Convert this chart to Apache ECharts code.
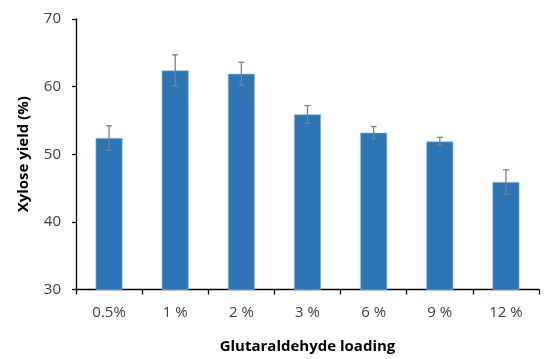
<!DOCTYPE html>
<html><head><meta charset="utf-8">
<script src="https://cdn.jsdelivr.net/npm/echarts@6/dist/echarts.min.js"></script>
<style>html,body{margin:0;padding:0;background:#fff}#c{width:550px;height:359px}</style>
</head><body><div id="c"></div>
<script>
var categories = ['0.5%', '1 %', '2 %', '3 %', '6 %', '9 %', '12 %'];
var yieldValues = [52.4, 62.4, 61.9, 55.9, 53.2, 51.9, 45.9];
var errorValues = [1.8, 2.3, 1.7, 1.3, 0.9, 0.6, 1.8];
var yTicks = [30, 40, 50, 60, 70];

var chart = echarts.init(document.getElementById('c'));
var errData = yieldValues.map(function (v, i) { return [i, v - errorValues[i], v + errorValues[i]]; });
var font = '"Open Sans", "Liberation Sans", sans-serif';
chart.setOption({
  animation: false,
  grid: { left: 76, right: 11, top: 19, bottom: 69.5, containLabel: false, outerBoundsMode: 'none' },
  xAxis: {
    type: 'category', data: categories,
    name: 'Glutaraldehyde loading', nameLocation: 'middle', nameGap: 50,
    nameTextStyle: { fontFamily: font, fontSize: 15, fontWeight: 'bold', color: '#000' },
    axisLine: { lineStyle: { color: '#000', width: 1.3 } },
    axisTick: { show: true, inside: false, length: 5, alignWithLabel: false, lineStyle: { color: '#000', width: 1.3 } },
    axisLabel: { fontFamily: font, fontSize: 15, color: '#404040', margin: 16 }
  },
  yAxis: {
    type: 'value', min: 30, max: 70, interval: 10,
    name: 'Xylose yield (%)', nameLocation: 'middle', nameGap: 45,
    nameTextStyle: { fontFamily: font, fontSize: 15, fontWeight: 'bold', color: '#000' },
    axisLine: { show: true, lineStyle: { color: '#000', width: 1.3 } },
    axisTick: { show: true, length: 4, lineStyle: { color: '#000', width: 1.3 } },
    axisLabel: { fontFamily: font, fontSize: 15, color: '#404040', margin: 15,
      formatter: function (v) { return yTicks.indexOf(v) >= 0 ? String(v) : ''; } },
    splitLine: { show: false }
  },
  series: [
    { type: 'bar', data: yieldValues, barWidth: 27,
      itemStyle: { color: '#2E75B6', borderColor: '#9DC3E6', borderWidth: 0.6 } },
    { type: 'custom', data: errData, z: 10,
      renderItem: function (params, api) {
        var x = api.value(0);
        var lo = api.coord([x, api.value(1)]);
        var hi = api.coord([x, api.value(2)]);
        var cap = 3;
        var st = { stroke: '#7f7f7f', lineWidth: 1.3 };
        return { type: 'group', children: [
          { type: 'line', shape: { x1: lo[0], y1: lo[1], x2: hi[0], y2: hi[1] }, style: st },
          { type: 'line', shape: { x1: hi[0] - cap, y1: hi[1], x2: hi[0] + cap, y2: hi[1] }, style: st },
          { type: 'line', shape: { x1: lo[0] - cap, y1: lo[1], x2: lo[0] + cap, y2: lo[1] }, style: st }
        ]};
      }
    }
  ]
});
</script></body></html>
